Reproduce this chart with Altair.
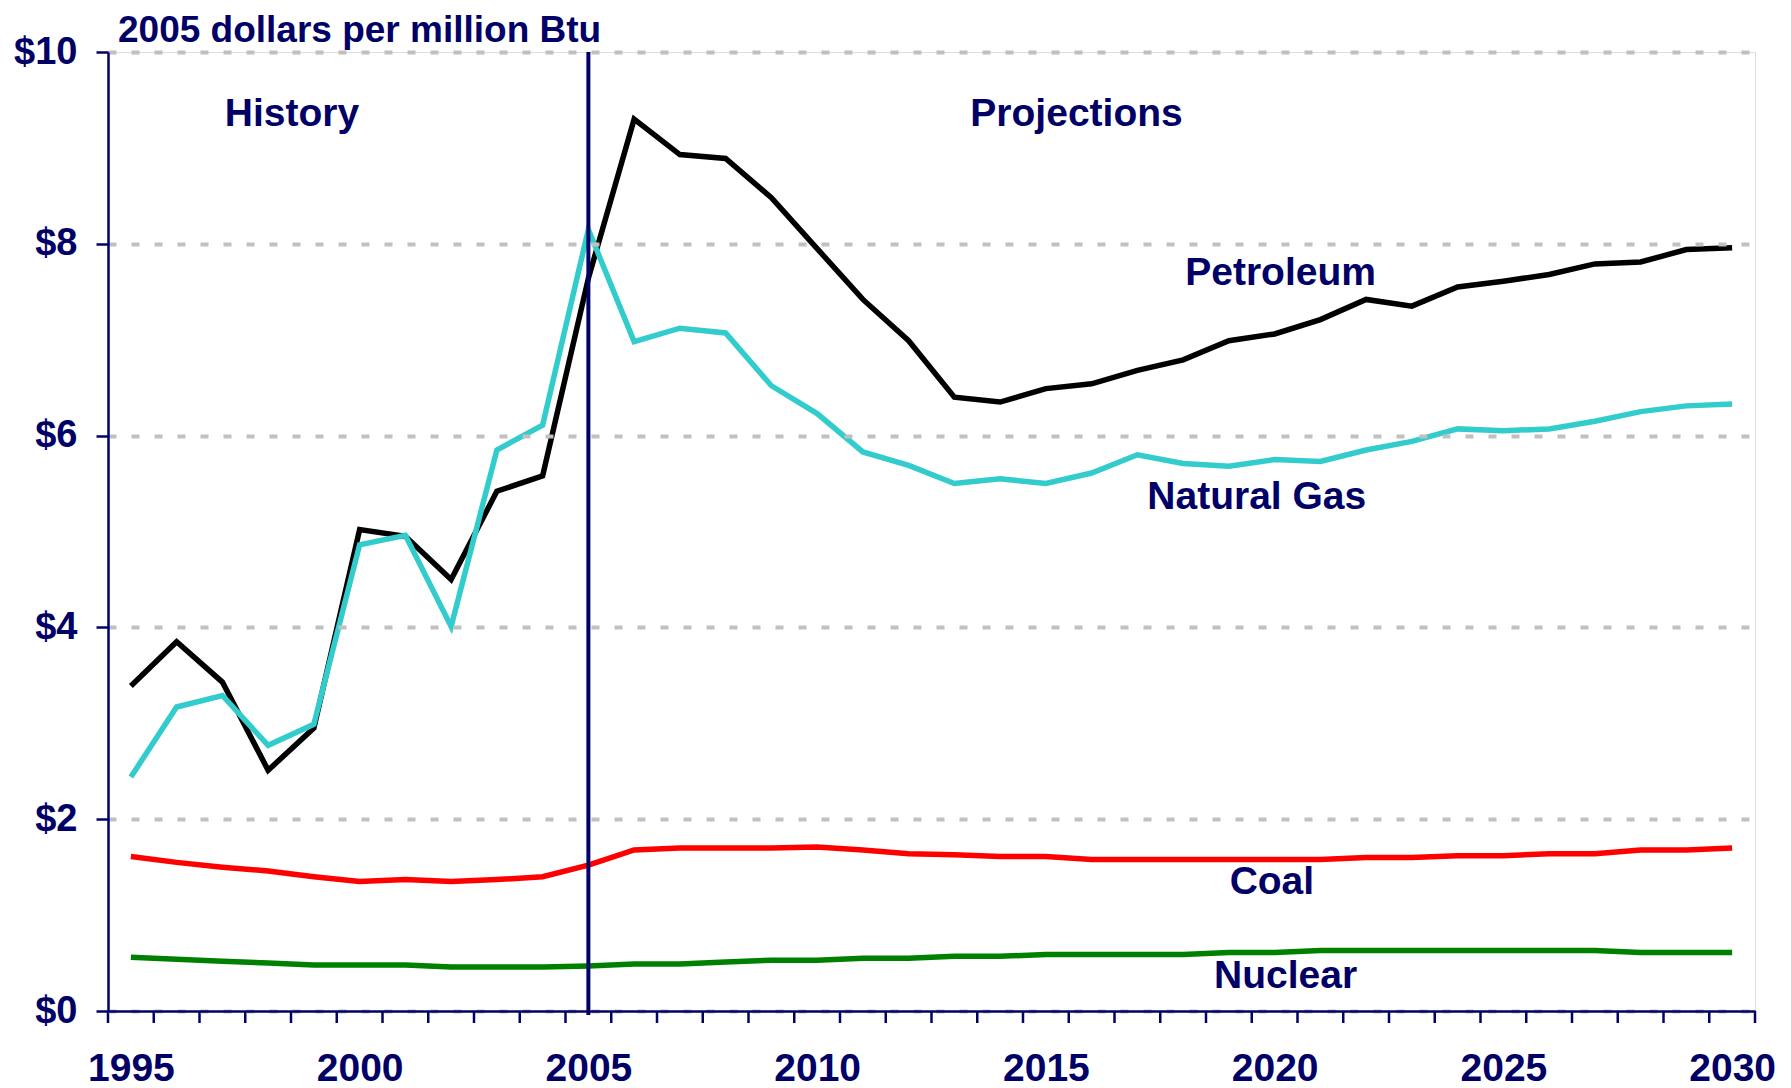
import altair as alt
import pandas as pd

years = list(range(1995, 2031))
petroleum = [3.39, 3.85, 3.43, 2.51, 2.95, 5.02, 4.95, 4.50, 5.42, 5.58,
             7.64, 9.30, 8.93, 8.89, 8.48, 7.95, 7.42, 6.99, 6.40, 6.35,
             6.49, 6.54, 6.68, 6.79, 6.99, 7.06, 7.21, 7.42, 7.35, 7.55,
             7.61, 7.68, 7.79, 7.81, 7.94, 7.96]
natural_gas = [2.44, 3.17, 3.29, 2.77, 2.99, 4.86, 4.96, 4.01, 5.85, 6.11,
               8.15, 6.98, 7.12, 7.07, 6.52, 6.23, 5.83, 5.69, 5.50, 5.55,
               5.50, 5.61, 5.80, 5.71, 5.68, 5.75, 5.73, 5.85, 5.94, 6.07,
               6.05, 6.07, 6.15, 6.25, 6.31, 6.33]
coal = [1.61, 1.55, 1.50, 1.46, 1.40, 1.35, 1.37, 1.35, 1.37, 1.40,
        1.52, 1.68, 1.70, 1.70, 1.70, 1.71, 1.68, 1.64, 1.63, 1.61,
        1.61, 1.58, 1.58, 1.58, 1.58, 1.58, 1.58, 1.60, 1.60, 1.62,
        1.62, 1.64, 1.64, 1.68, 1.68, 1.70]
nuclear = [0.56, 0.54, 0.52, 0.50, 0.48, 0.48, 0.48, 0.46, 0.46, 0.46,
           0.47, 0.49, 0.49, 0.51, 0.53, 0.53, 0.55, 0.55, 0.57, 0.57,
           0.59, 0.59, 0.59, 0.59, 0.61, 0.61, 0.63, 0.63, 0.63, 0.63,
           0.63, 0.63, 0.63, 0.61, 0.61, 0.61]

series_names = ["Petroleum", "Natural Gas", "Coal", "Nuclear"]
series_colors = ["#000000", "#33CCCC", "#FF0000", "#008000"]

label_texts = ["History", "Projections", "Petroleum", "Natural Gas", "Coal", "Nuclear"]
label_x = [1998.52, 2015.67, 2020.13, 2019.61, 2019.94, 2020.24]
label_y = [9.35, 9.35, 7.70, 5.36, 1.35, 0.37]

divider_year = 2005
year_labels = [1995, 2000, 2005, 2010, 2015, 2020, 2025, 2030]
y_ticks = [0, 2, 4, 6, 8, 10]
title_text = "2005 dollars per million Btu"

NAVY = "#000066"
FONT = "Liberation Sans"
W, H = 1647, 959

rows = []
for name, vals in zip(series_names, [petroleum, natural_gas, coal, nuclear]):
    for yr, v in zip(years, vals):
        rows.append({"year": yr, "value": v, "series": name})
df = pd.DataFrame(rows)

x_scale = alt.Scale(domain=[years[0] - 0.5, years[-1] + 0.5], nice=False, zero=False)
y_scale = alt.Scale(domain=[0, 10], nice=False)

lines = alt.Chart(df).mark_line(strokeWidth=5.5, strokeJoin="miter").encode(
    x=alt.X("year:Q", scale=x_scale,
            axis=alt.Axis(values=year_labels, format="d", ticks=False, tickSize=0,
                          labelPadding=38, labelFontSize=39, labelFont=FONT,
                          labelFontWeight="bold", labelColor=NAVY, domainColor=NAVY,
                          domainWidth=2.5, grid=False, title=None, labelFlush=False,
                          labelOverlap=False, zindex=2)),
    y=alt.Y("value:Q", scale=y_scale,
            axis=alt.Axis(values=y_ticks, labelExpr="'$' + datum.value", tickSize=12,
                          tickColor=NAVY, tickWidth=2.5, labelPadding=19,
                          labelFontSize=38, labelFont=FONT, labelFontWeight="bold",
                          labelColor=NAVY, domainColor=NAVY, domainWidth=2.5,
                          grid=True, gridColor="#c0c0c0", gridDash=[8, 15],
                          gridWidth=4, title=None, zindex=1)),
    color=alt.Color("series:N", scale=alt.Scale(domain=series_names, range=series_colors),
                    legend=None),
    order=alt.Order("year:Q"),
)

bounds = pd.DataFrame({"b": [y - 0.5 for y in years] + [years[-1] + 0.5]})
xticks = alt.Chart(bounds).mark_rule(color=NAVY, strokeWidth=2.5).encode(
    x=alt.X("b:Q", scale=x_scale),
    y=alt.value(H),
    y2=alt.value(H + 12),
)

divider = alt.Chart(pd.DataFrame({"yr": [divider_year]})).mark_rule(
    color=NAVY, strokeWidth=4
).encode(
    x=alt.X("yr:Q", scale=x_scale),
    y=alt.value(0),
    y2=alt.value(H + 4),
)

labels_df = pd.DataFrame({"t": label_texts, "x": label_x, "y": label_y})
labels = alt.Chart(labels_df).mark_text(
    font=FONT, fontSize=39, fontWeight="bold", color=NAVY, align="center", baseline="middle"
).encode(
    x=alt.X("x:Q", scale=x_scale),
    y=alt.Y("y:Q", scale=y_scale),
    text="t:N",
)

title = alt.Chart(pd.DataFrame({"t": [title_text]})).mark_text(
    font=FONT, fontSize=37, fontWeight="bold", color=NAVY, align="left",
    baseline="alphabetic"
).encode(
    x=alt.value(10),
    y=alt.value(-10),
    text="t:N",
)

chart = alt.layer(lines, xticks, divider, labels, title).properties(
    width=W,
    height=H,
    autosize=alt.AutoSizeParams(type="none"),
    padding={"left": 100, "top": 44, "right": 20, "bottom": 76},
).configure_view(stroke=NAVY, strokeWidth=2.5).configure(background="white")

chart.save("out.html", embed_options={"renderer": "svg", "actions": False})
